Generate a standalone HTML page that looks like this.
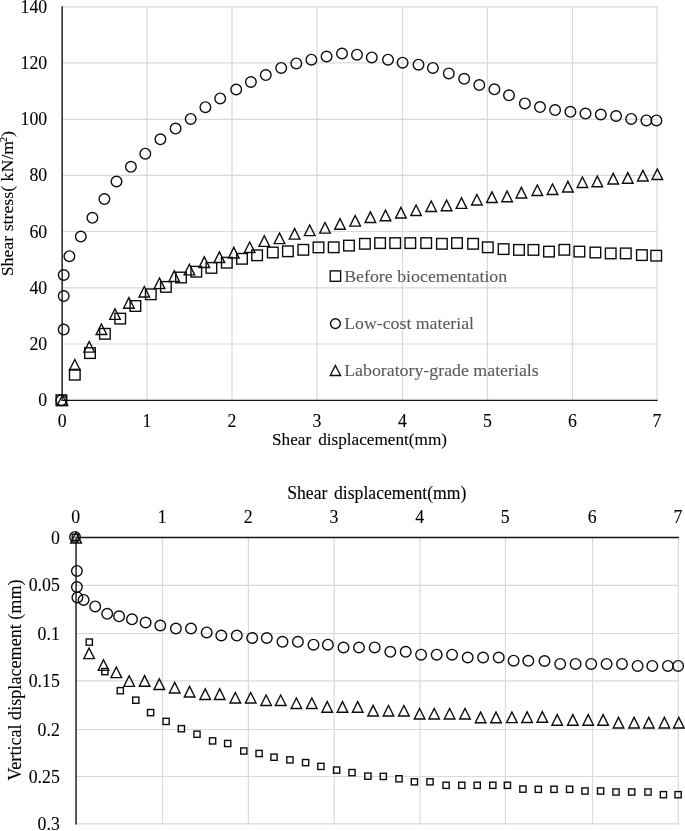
<!DOCTYPE html>
<html><head><meta charset="utf-8"><title>Shear test charts</title>
<style>
html,body{margin:0;padding:0;background:#fff;}
body{width:685px;height:831px;overflow:hidden;}
svg{display:block;will-change:transform;}
text{font-family:"Liberation Serif",serif;fill:#000;stroke:#000;stroke-width:.1;}
.g line{stroke:#d9d9d9;stroke-width:1.2;}
.ax{stroke:#141414;stroke-width:1.4;}
.m{fill:none;stroke:#0d0d0d;stroke-width:1.4;}
.lg text{fill:#595959;stroke:#595959;stroke-width:.1;}
</style></head><body>
<svg width="685" height="831" viewBox="0 0 685 831">
<rect width="685" height="831" fill="#fff"/>

<g class="g">
<line x1="62.15" y1="344" x2="657.65" y2="344"/>
<line x1="62.15" y1="287.8" x2="657.65" y2="287.8"/>
<line x1="62.15" y1="231.5" x2="657.65" y2="231.5"/>
<line x1="62.15" y1="175.4" x2="657.65" y2="175.4"/>
<line x1="62.15" y1="119.3" x2="657.65" y2="119.3"/>
<line x1="62.15" y1="62.96" x2="657.65" y2="62.96"/>
<line x1="62.15" y1="6.9" x2="657.65" y2="6.9"/>
<line x1="147.05" y1="6.3" x2="147.05" y2="400.36"/>
<line x1="232" y1="6.3" x2="232" y2="400.36"/>
<line x1="316.95" y1="6.3" x2="316.95" y2="400.36"/>
<line x1="402.5" y1="6.3" x2="402.5" y2="400.36"/>
<line x1="487.5" y1="6.3" x2="487.5" y2="400.36"/>
<line x1="572.5" y1="6.3" x2="572.5" y2="400.36"/>
<line x1="657.05" y1="6.3" x2="657.05" y2="400.36"/>
</g>
<line class="ax" x1="62.15" y1="6.3" x2="62.15" y2="401.06"/>
<line class="ax" x1="62.15" y1="400.36" x2="657.65" y2="400.36"/>
<g font-size="17.8" text-anchor="end">
<text x="47.2" y="406.36">0</text>
<text x="47.2" y="350">20</text>
<text x="47.2" y="293.8">40</text>
<text x="47.2" y="237.5">60</text>
<text x="47.2" y="181.4">80</text>
<text x="47.2" y="125.3">100</text>
<text x="47.2" y="68.96">120</text>
<text x="47.2" y="12.9">140</text>
</g>
<g font-size="17.8" text-anchor="middle">
<text x="62.15" y="427.3">0</text>
<text x="147.05" y="427.3">1</text>
<text x="232" y="427.3">2</text>
<text x="316.95" y="427.3">3</text>
<text x="402.5" y="427.3">4</text>
<text x="487.5" y="427.3">5</text>
<text x="572.5" y="427.3">6</text>
<text x="657.05" y="427.3">7</text>
<text id="xl1" x="359.5" y="445.1" font-size="17.4" word-spacing="2.8" textLength="175" lengthAdjust="spacingAndGlyphs">Shear displacement(mm)</text>
<text id="yl1" transform="translate(12.7 203.7) rotate(-90)" font-size="17.6" textLength="145.3" lengthAdjust="spacingAndGlyphs">Shear stress( kN/m<tspan font-size="10" dy="-6" dx="-1.2">2</tspan><tspan dy="6">)</tspan></text>
</g>
<g class="m">
<rect x="56.1" y="394.9" width="10.6" height="10.6"/><rect x="69.5" y="369.4" width="10.6" height="10.6"/><rect x="84.7" y="347.8" width="10.6" height="10.6"/><rect x="99.6" y="328.5" width="10.6" height="10.6"/><rect x="114.9" y="313.3" width="10.6" height="10.6"/><rect x="130.1" y="300.7" width="10.6" height="10.6"/><rect x="145.5" y="289" width="10.6" height="10.6"/><rect x="160.6" y="281.6" width="10.6" height="10.6"/><rect x="175.7" y="272.2" width="10.6" height="10.6"/><rect x="191" y="266.4" width="10.6" height="10.6"/><rect x="206.1" y="262.6" width="10.6" height="10.6"/><rect x="221.5" y="257.4" width="10.6" height="10.6"/><rect x="236.7" y="253.5" width="10.6" height="10.6"/><rect x="251.8" y="250" width="10.6" height="10.6"/><rect x="267.5" y="247.2" width="10.6" height="10.6"/><rect x="282.6" y="246" width="10.6" height="10.6"/><rect x="298" y="244.5" width="10.6" height="10.6"/><rect x="313.2" y="242.1" width="10.6" height="10.6"/><rect x="328.4" y="242" width="10.6" height="10.6"/><rect x="343.7" y="240.3" width="10.6" height="10.6"/><rect x="359.6" y="238.5" width="10.6" height="10.6"/><rect x="374.8" y="237.8" width="10.6" height="10.6"/><rect x="389.9" y="237.8" width="10.6" height="10.6"/><rect x="405" y="237.8" width="10.6" height="10.6"/><rect x="420.9" y="237.8" width="10.6" height="10.6"/><rect x="436.6" y="238.5" width="10.6" height="10.6"/><rect x="451.7" y="237.8" width="10.6" height="10.6"/><rect x="467.8" y="238.5" width="10.6" height="10.6"/><rect x="482.5" y="242" width="10.6" height="10.6"/><rect x="498.3" y="243.8" width="10.6" height="10.6"/><rect x="513.7" y="244.6" width="10.6" height="10.6"/><rect x="528.1" y="244.6" width="10.6" height="10.6"/><rect x="543.7" y="246.3" width="10.6" height="10.6"/><rect x="559" y="244.5" width="10.6" height="10.6"/><rect x="574.1" y="246.3" width="10.6" height="10.6"/><rect x="590.1" y="247.2" width="10.6" height="10.6"/><rect x="605.4" y="248.1" width="10.6" height="10.6"/><rect x="620.5" y="248.1" width="10.6" height="10.6"/><rect x="636.6" y="249.8" width="10.6" height="10.6"/><rect x="650.9" y="250.4" width="10.6" height="10.6"/>
<path d="M62.4 395.05L67.7 405.65L57.1 405.65Z"/><path d="M74.8 359.45L80.1 370.05L69.5 370.05Z"/><path d="M89.2 341.55L94.5 352.15L83.9 352.15Z"/><path d="M101.4 323.95L106.7 334.55L96.1 334.55Z"/><path d="M115 308.75L120.3 319.35L109.7 319.35Z"/><path d="M128.9 297.65L134.2 308.25L123.6 308.25Z"/><path d="M144.3 286.45L149.6 297.05L139 297.05Z"/><path d="M159.5 278.05L164.8 288.65L154.2 288.65Z"/><path d="M174.2 270.85L179.5 281.45L168.9 281.45Z"/><path d="M189.4 264.25L194.7 274.85L184.1 274.85Z"/><path d="M204.3 256.85L209.6 267.45L199 267.45Z"/><path d="M219.4 251.85L224.7 262.45L214.1 262.45Z"/><path d="M233.8 247.35L239.1 257.95L228.5 257.95Z"/><path d="M249.7 241.95L255 252.55L244.4 252.55Z"/><path d="M264.3 235.75L269.6 246.35L259 246.35Z"/><path d="M279.5 233.05L284.8 243.65L274.2 243.65Z"/><path d="M294.6 228.55L299.9 239.15L289.3 239.15Z"/><path d="M309.7 225.05L315 235.65L304.4 235.65Z"/><path d="M325 222.55L330.3 233.15L319.7 233.15Z"/><path d="M340 218.65L345.3 229.25L334.7 229.25Z"/><path d="M355.2 215.55L360.5 226.15L349.9 226.15Z"/><path d="M370.4 211.85L375.7 222.45L365.1 222.45Z"/><path d="M385.5 210.15L390.8 220.75L380.2 220.75Z"/><path d="M400.9 207.35L406.2 217.95L395.6 217.95Z"/><path d="M416.1 204.95L421.4 215.55L410.8 215.55Z"/><path d="M431.2 200.95L436.5 211.55L425.9 211.55Z"/><path d="M446.6 200.15L451.9 210.75L441.3 210.75Z"/><path d="M461.5 197.75L466.8 208.35L456.2 208.35Z"/><path d="M476.9 194.45L482.2 205.05L471.6 205.05Z"/><path d="M491.9 191.85L497.2 202.45L486.6 202.45Z"/><path d="M507.1 191.15L512.4 201.75L501.8 201.75Z"/><path d="M521.4 187.35L526.7 197.95L516.1 197.95Z"/><path d="M537.3 184.95L542.6 195.55L532 195.55Z"/><path d="M552.5 183.95L557.8 194.55L547.2 194.55Z"/><path d="M567.9 181.35L573.2 191.95L562.6 191.95Z"/><path d="M582.4 176.95L587.7 187.55L577.1 187.55Z"/><path d="M597.3 176.15L602.6 186.75L592 186.75Z"/><path d="M613.2 173.35L618.5 183.95L607.9 183.95Z"/><path d="M627.8 172.65L633.1 183.25L622.5 183.25Z"/><path d="M642.9 170.35L648.2 180.95L637.6 180.95Z"/><path d="M657.3 168.95L662.6 179.55L652 179.55Z"/>
<circle cx="61.4" cy="400.2" r="5.3"/><circle cx="63.7" cy="329.6" r="5.3"/><circle cx="63.7" cy="296.1" r="5.3"/><circle cx="63.7" cy="275" r="5.3"/><circle cx="69.4" cy="256.2" r="5.3"/><circle cx="80.8" cy="236.6" r="5.3"/><circle cx="92.4" cy="217.8" r="5.3"/><circle cx="104.4" cy="199.1" r="5.3"/><circle cx="116.5" cy="181.5" r="5.3"/><circle cx="130.9" cy="166.8" r="5.3"/><circle cx="145.3" cy="153.7" r="5.3"/><circle cx="160.4" cy="139.3" r="5.3"/><circle cx="175.6" cy="128.6" r="5.3"/><circle cx="190.7" cy="118.9" r="5.3"/><circle cx="205.4" cy="107.2" r="5.3"/><circle cx="220.2" cy="98.4" r="5.3"/><circle cx="236.2" cy="89.5" r="5.3"/><circle cx="250.9" cy="82" r="5.3"/><circle cx="265.8" cy="75.1" r="5.3"/><circle cx="281.2" cy="67.9" r="5.3"/><circle cx="296.3" cy="63.4" r="5.3"/><circle cx="311.4" cy="59.7" r="5.3"/><circle cx="326.6" cy="56.5" r="5.3"/><circle cx="342" cy="53.5" r="5.3"/><circle cx="357" cy="54.7" r="5.3"/><circle cx="371.8" cy="57.4" r="5.3"/><circle cx="388" cy="59.7" r="5.3"/><circle cx="402.6" cy="62.7" r="5.3"/><circle cx="418.5" cy="64.7" r="5.3"/><circle cx="432.9" cy="67.9" r="5.3"/><circle cx="448.8" cy="73.4" r="5.3"/><circle cx="464.2" cy="78.8" r="5.3"/><circle cx="479.3" cy="85.1" r="5.3"/><circle cx="494.4" cy="89.3" r="5.3"/><circle cx="509" cy="95.3" r="5.3"/><circle cx="524.9" cy="103.4" r="5.3"/><circle cx="540" cy="107.1" r="5.3"/><circle cx="555.1" cy="110.1" r="5.3"/><circle cx="570.4" cy="111.8" r="5.3"/><circle cx="585.5" cy="113.6" r="5.3"/><circle cx="600.8" cy="114.5" r="5.3"/><circle cx="616.1" cy="116" r="5.3"/><circle cx="631.2" cy="118.9" r="5.3"/><circle cx="646.4" cy="120.4" r="5.3"/><circle cx="656.4" cy="120.4" r="5.3"/>
<rect x="330.2" y="270.9" width="10.4" height="10.4"/>
<circle cx="335.4" cy="323.6" r="4.9"/>
<path d="M335.4 365.45L340.6 375.45L330.2 375.45Z"/>
</g>
<g class="lg" font-size="17.7" lengthAdjust="spacingAndGlyphs">
<text id="lg1" x="344.2" y="281.8" textLength="163" lengthAdjust="spacingAndGlyphs">Before biocementation</text>
<text id="lg2" x="344.2" y="329.1" textLength="129.8" lengthAdjust="spacingAndGlyphs">Low-cost material</text>
<text id="lg3" x="344.2" y="375.8" textLength="194.5" lengthAdjust="spacingAndGlyphs">Laboratory-grade materials</text>
</g>
<g class="g">
<line x1="76.06" y1="585.4" x2="678.9" y2="585.4"/>
<line x1="76.06" y1="633.5" x2="678.9" y2="633.5"/>
<line x1="76.06" y1="680.95" x2="678.9" y2="680.95"/>
<line x1="76.06" y1="729.5" x2="678.9" y2="729.5"/>
<line x1="76.06" y1="776.5" x2="678.9" y2="776.5"/>
<line x1="76.06" y1="823.95" x2="678.9" y2="823.95"/>
<line x1="162.5" y1="537.55" x2="162.5" y2="824.55"/>
<line x1="248.4" y1="537.55" x2="248.4" y2="824.55"/>
<line x1="334.15" y1="537.55" x2="334.15" y2="824.55"/>
<line x1="420" y1="537.55" x2="420" y2="824.55"/>
<line x1="505.5" y1="537.55" x2="505.5" y2="824.55"/>
<line x1="592.5" y1="537.55" x2="592.5" y2="824.55"/>
<line x1="678.3" y1="537.55" x2="678.3" y2="824.55"/>
</g>
<line class="ax" x1="76.06" y1="536.85" x2="76.06" y2="824.55"/>
<line class="ax" x1="76.06" y1="537.55" x2="678.9" y2="537.55"/>
<g font-size="17.8" text-anchor="end">
<text x="59.8" y="543.55">0</text>
<text x="59.8" y="591.4">0.05</text>
<text x="59.8" y="639.5">0.1</text>
<text x="59.8" y="686.95">0.15</text>
<text x="59.8" y="735.5">0.2</text>
<text x="59.8" y="782.5">0.25</text>
<text x="59.8" y="829.95">0.3</text>
</g>
<g font-size="17.8" text-anchor="middle">
<text x="75.76" y="523.0">0</text>
<text x="162.2" y="523.0">1</text>
<text x="248.1" y="523.0">2</text>
<text x="333.85" y="523.0">3</text>
<text x="419.7" y="523.0">4</text>
<text x="505.2" y="523.0">5</text>
<text x="592.2" y="523.0">6</text>
<text x="678" y="523.0">7</text>
<text id="xl2" x="376.8" y="498.8" font-size="17.8" word-spacing="2.2" textLength="179.2" lengthAdjust="spacingAndGlyphs">Shear displacement(mm)</text>
<text id="yl2" transform="translate(20.5 680.1) rotate(-90)" font-size="17.9" textLength="201.4" lengthAdjust="spacingAndGlyphs">Vertical displacement (mm)</text>
</g>
<g class="m">
<rect x="72.2" y="534.1" width="6.2" height="6.2"/><rect x="86.2" y="639" width="6.2" height="6.2"/><rect x="101.8" y="668.5" width="6.2" height="6.2"/><rect x="117.2" y="687.6" width="6.2" height="6.2"/><rect x="132.7" y="697.1" width="6.2" height="6.2"/><rect x="147.5" y="709.5" width="6.2" height="6.2"/><rect x="163" y="718.3" width="6.2" height="6.2"/><rect x="178.3" y="725.6" width="6.2" height="6.2"/><rect x="193.9" y="731.1" width="6.2" height="6.2"/><rect x="209.5" y="737.8" width="6.2" height="6.2"/><rect x="224.6" y="740.4" width="6.2" height="6.2"/><rect x="240.7" y="747.9" width="6.2" height="6.2"/><rect x="256" y="750.4" width="6.2" height="6.2"/><rect x="270.9" y="754.1" width="6.2" height="6.2"/><rect x="286.8" y="756.8" width="6.2" height="6.2"/><rect x="302.5" y="759.5" width="6.2" height="6.2"/><rect x="317.8" y="763.3" width="6.2" height="6.2"/><rect x="333.5" y="767" width="6.2" height="6.2"/><rect x="348.9" y="769.5" width="6.2" height="6.2"/><rect x="364.8" y="773" width="6.2" height="6.2"/><rect x="380.2" y="773.3" width="6.2" height="6.2"/><rect x="395.9" y="775.7" width="6.2" height="6.2"/><rect x="411.3" y="778.7" width="6.2" height="6.2"/><rect x="426.9" y="778.7" width="6.2" height="6.2"/><rect x="443" y="782.2" width="6.2" height="6.2"/><rect x="458.7" y="782.2" width="6.2" height="6.2"/><rect x="474.1" y="782.2" width="6.2" height="6.2"/><rect x="489.7" y="782.2" width="6.2" height="6.2"/><rect x="504.3" y="782.2" width="6.2" height="6.2"/><rect x="519.8" y="786" width="6.2" height="6.2"/><rect x="535.2" y="786.2" width="6.2" height="6.2"/><rect x="550.9" y="786.2" width="6.2" height="6.2"/><rect x="566.5" y="786.2" width="6.2" height="6.2"/><rect x="581.9" y="787.9" width="6.2" height="6.2"/><rect x="597.5" y="787.9" width="6.2" height="6.2"/><rect x="612.9" y="788.9" width="6.2" height="6.2"/><rect x="628.6" y="788.9" width="6.2" height="6.2"/><rect x="644.9" y="788.9" width="6.2" height="6.2"/><rect x="660.3" y="791.6" width="6.2" height="6.2"/><rect x="675" y="791.6" width="6.2" height="6.2"/>
<path d="M76.06 532.4L81.36 543L70.76 543Z"/><path d="M89.1 648.05L94.4 658.65L83.8 658.65Z"/><path d="M103.5 659.75L108.8 670.35L98.2 670.35Z"/><path d="M116.3 667.05L121.6 677.65L111 677.65Z"/><path d="M129.2 675.75L134.5 686.35L123.9 686.35Z"/><path d="M144.6 675.65L149.9 686.25L139.3 686.25Z"/><path d="M159.3 678.85L164.6 689.45L154 689.45Z"/><path d="M174.7 682.35L180 692.95L169.4 692.95Z"/><path d="M189.6 686.35L194.9 696.95L184.3 696.95Z"/><path d="M205.2 688.85L210.5 699.45L199.9 699.45Z"/><path d="M219.7 688.85L225 699.45L214.4 699.45Z"/><path d="M235.3 692.45L240.6 703.05L230 703.05Z"/><path d="M250.7 692.45L256 703.05L245.4 703.05Z"/><path d="M266.1 694.95L271.4 705.55L260.8 705.55Z"/><path d="M280.7 694.95L286 705.55L275.4 705.55Z"/><path d="M296.4 697.95L301.7 708.55L291.1 708.55Z"/><path d="M311.8 697.95L317.1 708.55L306.5 708.55Z"/><path d="M327.2 701.65L332.5 712.25L321.9 712.25Z"/><path d="M342.5 701.65L347.8 712.25L337.2 712.25Z"/><path d="M357.7 701.65L363 712.25L352.4 712.25Z"/><path d="M373.1 705.35L378.4 715.95L367.8 715.95Z"/><path d="M388.5 705.45L393.8 716.05L383.2 716.05Z"/><path d="M403.9 705.45L409.2 716.05L398.6 716.05Z"/><path d="M419.6 708.45L424.9 719.05L414.3 719.05Z"/><path d="M434.2 708.45L439.5 719.05L428.9 719.05Z"/><path d="M449.6 708.45L454.9 719.05L444.3 719.05Z"/><path d="M465 708.45L470.3 719.05L459.7 719.05Z"/><path d="M480.6 712.15L485.9 722.75L475.3 722.75Z"/><path d="M496 712.15L501.3 722.75L490.7 722.75Z"/><path d="M511.9 712.05L517.2 722.65L506.6 722.65Z"/><path d="M527.1 711.85L532.4 722.45L521.8 722.45Z"/><path d="M542.3 711.65L547.6 722.25L537 722.25Z"/><path d="M557.2 714.65L562.5 725.25L551.9 725.25Z"/><path d="M572.8 714.65L578.1 725.25L567.5 725.25Z"/><path d="M588.2 714.65L593.5 725.25L582.9 725.25Z"/><path d="M603.1 714.65L608.4 725.25L597.8 725.25Z"/><path d="M618.5 717.35L623.8 727.95L613.2 727.95Z"/><path d="M634.1 717.35L639.4 727.95L628.8 727.95Z"/><path d="M648.8 717.35L654.1 727.95L643.5 727.95Z"/><path d="M664.4 717.35L669.7 727.95L659.1 727.95Z"/><path d="M678.8 717.35L684.1 727.95L673.5 727.95Z"/>
<circle cx="75" cy="536.9" r="5.3"/><circle cx="76.9" cy="570.9" r="5.3"/><circle cx="76.9" cy="587" r="5.3"/><circle cx="77.4" cy="597.4" r="5.3"/><circle cx="83.6" cy="599.9" r="5.3"/><circle cx="95.2" cy="606.4" r="5.3"/><circle cx="107.2" cy="613.8" r="5.3"/><circle cx="119.1" cy="616.3" r="5.3"/><circle cx="132" cy="619.3" r="5.3"/><circle cx="145.6" cy="622.5" r="5.3"/><circle cx="160.3" cy="625.5" r="5.3"/><circle cx="175.9" cy="628.5" r="5.3"/><circle cx="191" cy="628.5" r="5.3"/><circle cx="206.7" cy="632.4" r="5.3"/><circle cx="221.3" cy="635.5" r="5.3"/><circle cx="236.8" cy="635.6" r="5.3"/><circle cx="252.2" cy="638" r="5.3"/><circle cx="266.8" cy="638" r="5.3"/><circle cx="282.5" cy="641.8" r="5.3"/><circle cx="297.9" cy="641.8" r="5.3"/><circle cx="313.5" cy="644.7" r="5.3"/><circle cx="327.9" cy="644.7" r="5.3"/><circle cx="343.5" cy="647.5" r="5.3"/><circle cx="359" cy="647.5" r="5.3"/><circle cx="374.7" cy="647.4" r="5.3"/><circle cx="390.3" cy="651.8" r="5.3"/><circle cx="405.7" cy="651.8" r="5.3"/><circle cx="421.1" cy="654.7" r="5.3"/><circle cx="436.7" cy="654.7" r="5.3"/><circle cx="452.1" cy="654.7" r="5.3"/><circle cx="467.7" cy="657.5" r="5.3"/><circle cx="483.1" cy="657.5" r="5.3"/><circle cx="498.7" cy="657.5" r="5.3"/><circle cx="513.6" cy="660.7" r="5.3"/><circle cx="528.3" cy="660.8" r="5.3"/><circle cx="544.5" cy="661" r="5.3"/><circle cx="560.2" cy="663.9" r="5.3"/><circle cx="575.6" cy="663.9" r="5.3"/><circle cx="591.2" cy="663.9" r="5.3"/><circle cx="606.6" cy="663.9" r="5.3"/><circle cx="622" cy="663.9" r="5.3"/><circle cx="637.6" cy="665.9" r="5.3"/><circle cx="652.3" cy="665.9" r="5.3"/><circle cx="667.9" cy="665.9" r="5.3"/><circle cx="678.1" cy="665.9" r="5.3"/>
</g>
</svg>
</body></html>
